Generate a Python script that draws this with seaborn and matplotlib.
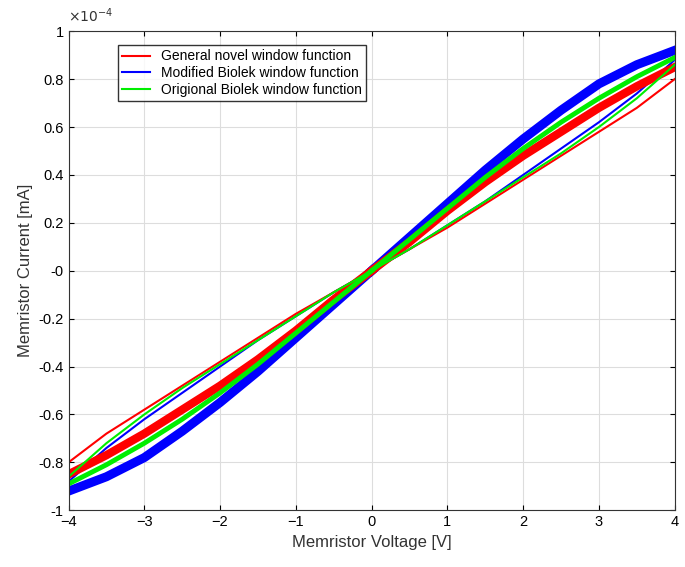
import numpy as np
import pandas as pd
import seaborn as sns
import matplotlib
matplotlib.use("Agg")
import matplotlib.pyplot as plt
from matplotlib.ticker import FuncFormatter
from matplotlib.lines import Line2D

plt.rcParams["font.family"] = "Liberation Sans"

# voltage samples for one branch (0 -> 4 V)
volt = [0, 0.5, 1, 1.5, 2, 2.5, 3, 3.5, 4]
# current values in units of 1e-4 A
blue_up = [0, 0.14, 0.28, 0.42, 0.55, 0.67, 0.78, 0.86, 0.92]
blue_dn = [0, 0.09, 0.19, 0.29, 0.40, 0.51, 0.62, 0.74, 0.88]
red_up = [0, 0.12, 0.25, 0.37, 0.48, 0.58, 0.68, 0.77, 0.85]
red_dn = [0, 0.09, 0.18, 0.28, 0.38, 0.48, 0.58, 0.68, 0.80]
green_up = [0, 0.13, 0.26, 0.39, 0.51, 0.62, 0.72, 0.81, 0.89]
green_dn = [0, 0.09, 0.19, 0.29, 0.39, 0.49, 0.60, 0.72, 0.86]

names = ["Modified Biolek window function", "General novel window function",
         "Origional Biolek window function"]
colors = {"General novel window function": "#ff0000",
          "Modified Biolek window function": "#0000ff",
          "Origional Biolek window function": "#00ee00"}
widths = {names[0]: 6.5, names[1]: 6, names[2]: 3.5}
ups = {names[0]: blue_up, names[1]: red_up, names[2]: green_up}
dns = {names[0]: blue_dn, names[1]: red_dn, names[2]: green_dn}

fig, ax = plt.subplots(figsize=(6.85, 5.67), dpi=100)
fig.subplots_adjust(left=0.1, right=0.985, top=0.945, bottom=0.1)

for n in names:
    v = np.array(volt, float)
    for sign in (1, -1):
        dfu = pd.DataFrame({"V": sign * v, "I": sign * np.array(ups[n])})
        dfd = pd.DataFrame({"V": sign * v, "I": sign * np.array(dns[n])})
        sns.lineplot(data=dfu, x="V", y="I", sort=False, color=colors[n], lw=widths[n], ax=ax)
        sns.lineplot(data=dfd, x="V", y="I", sort=False, color=colors[n], lw=1.5, ax=ax)

order = ["General novel window function", "Modified Biolek window function",
         "Origional Biolek window function"]
handles = [Line2D([], [], color=colors[n], lw=1.5) for n in order]
ax.legend(handles, order, loc="upper left", bbox_to_anchor=(0.07, 0.985),
          frameon=True, edgecolor="black", fancybox=False, fontsize=10,
          borderpad=0.3, labelspacing=0.2)

ax.set_xlim(-4, 4)
ax.set_ylim(-1, 1)
ax.set_xticks(np.arange(-4, 5, 1))
ax.set_yticks(np.round(np.arange(-1, 1.01, 0.2), 1))
ax.yaxis.set_major_formatter(FuncFormatter(lambda v, p: f"{v:g}"))
ax.text(0.0, 1.012, r"$\times10^{-4}$", transform=ax.transAxes, fontsize=10,
        color="#333333", va="bottom")
ax.grid(True, color="#dddddd", lw=0.8)
ax.set_axisbelow(True)
for s in ax.spines.values():
    s.set_color("#333333")
ax.tick_params(labelsize=10.5, direction="in", top=True, right=True)
ax.set_xlabel("Memristor Voltage [V]", fontsize=12, color="#333333")
ax.set_ylabel("Memristor Current [mA]", fontsize=12, color="#333333")
fig.savefig("out.png")
